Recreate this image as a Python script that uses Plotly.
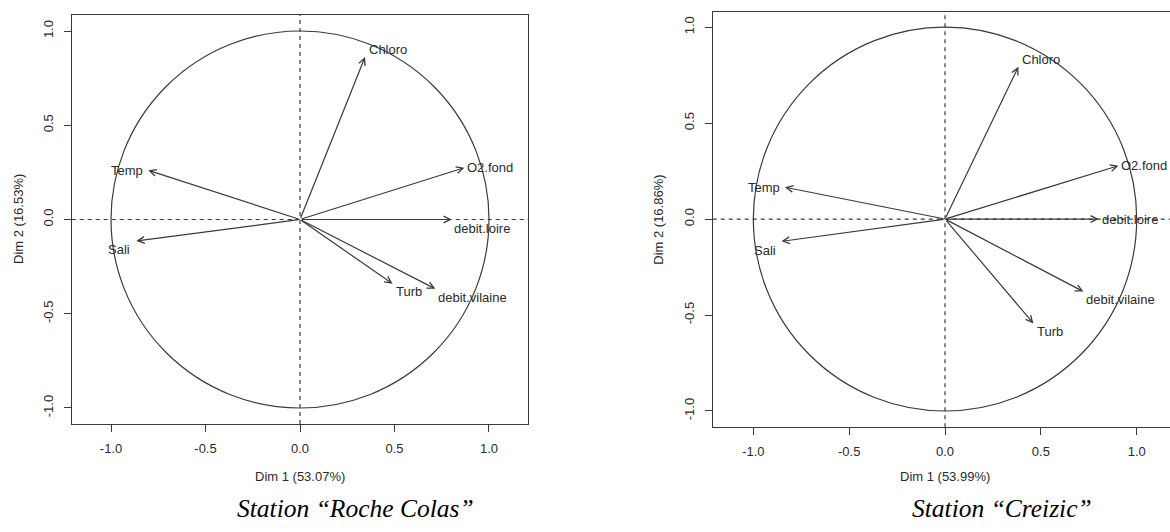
import plotly.graph_objects as go

# PCA variable coordinates (correlation circle) for the two stations
variables = ["Chloro", "Temp", "O2.fond", "debit.loire", "Sali", "Turb", "debit.vilaine"]

rc_dim1 = [0.344, -0.803, 0.870, 0.803, -0.866, 0.490, 0.716]
rc_dim2 = [0.862, 0.261, 0.275, 0.000, -0.114, -0.341, -0.368]

cz_dim1 = [0.383, -0.835, 0.905, 0.802, -0.853, 0.461, 0.722]
cz_dim2 = [0.794, 0.166, 0.278, 0.000, -0.116, -0.544, -0.378]

tick_vals = [-1.0, -0.5, 0.0, 0.5, 1.0]
tick_text = ["-1.0", "-0.5", "0.0", "0.5", "1.0"]

panels = [
    {"station": "Station \u201cRoche Colas\u201d", "xlab": "Dim 1 (53.07%)", "ylab": "Dim 2 (16.53%)",
     "d1": rc_dim1, "d2": rc_dim2},
    {"station": "Station \u201cCreizic\u201d", "xlab": "Dim 1 (53.99%)", "ylab": "Dim 2 (16.86%)",
     "d1": cz_dim1, "d2": cz_dim2},
]

# label placement around each arrow tip: (xanchor, xshift, yshift)
label_pos = [
    {"Chloro": ("left", 2, 8), "Temp": ("right", -3, 0), "O2.fond": ("left", 1, 0),
     "debit.loire": ("left", 0, -9), "Sali": ("right", -4, -9), "Turb": ("left", 1, -8),
     "debit.vilaine": ("left", 1, -9)},
    {"Chloro": ("left", 2, 7), "Temp": ("right", -3, 0), "O2.fond": ("left", 1, 0),
     "debit.loire": ("left", 1, 0), "Sali": ("right", -4, -9), "Turb": ("left", 2, -8),
     "debit.vilaine": ("left", 1, -8)},
]

W, H = 1170, 532
LINE = "#3a3a3a"
LW = 1.2
TXT = "#2a2a2a"
SANS = "Liberation Sans, Arial, sans-serif"

fig = go.Figure()

# subplot geometry (pixels)
geo = [
    {"x0": 71.7, "x1": 528.3, "y0": 15.0, "y1": 424.0, "xr": [-1.208, 1.208], "yr": [-1.085, 1.085]},
    {"x0": 712.7, "x1": 1170.0, "y0": 12.2, "y1": 427.3, "xr": [-1.212, 1.1737], "yr": [-1.085, 1.078]},
]

annotations = []
shapes = []
for i, (p, g) in enumerate(zip(panels, geo)):
    sx = "" if i == 0 else str(i + 1)
    xa, ya = "x" + sx, "y" + sx
    axis_common = dict(
        tickmode="array", tickvals=tick_vals, ticktext=tick_text,
        ticks="outside", ticklen=7, tickwidth=LW, tickcolor=LINE,
        showgrid=False, zeroline=False, showline=True, linecolor=LINE, linewidth=LW,
        tickfont=dict(family=SANS, size=13, color=TXT), ticklabelstandoff=5,
    )
    fig.update_layout({
        "xaxis" + sx: dict(axis_common, domain=[g["x0"] / W, g["x1"] / W], range=g["xr"],
                           anchor=ya, mirror=True),
        "yaxis" + sx: dict(axis_common, domain=[1 - g["y1"] / H, 1 - g["y0"] / H], range=g["yr"],
                           anchor=xa, mirror=(i == 0), tickangle=-90),
    })

    # unit circle and dashed reference axes
    shapes.append(dict(type="circle", xref=xa, yref=ya, x0=-1, x1=1, y0=-1, y1=1,
                       line=dict(color=LINE, width=LW)))
    shapes.append(dict(type="line", xref=xa, yref=ya, x0=g["xr"][0], x1=g["xr"][1], y0=0, y1=0,
                       line=dict(color=LINE, width=LW, dash="4px,4px")))
    shapes.append(dict(type="line", xref=xa, yref=ya, x0=0, x1=0, y0=g["yr"][0], y1=g["yr"][1],
                       line=dict(color=LINE, width=LW, dash="4px,4px")))

    # variable arrows and their labels
    for name, vx, vy in zip(variables, p["d1"], p["d2"]):
        annotations.append(dict(xref=xa, yref=ya, axref=xa, ayref=ya, x=vx, y=vy, ax=0, ay=0,
                                text="", showarrow=True, arrowhead=5, arrowsize=1.1,
                                arrowwidth=LW, arrowcolor=LINE, standoff=0, startstandoff=0))
        anc, dx, dy = label_pos[i][name]
        annotations.append(dict(xref=xa, yref=ya, x=vx, y=vy, text=name, showarrow=False,
                                xanchor=anc, yanchor="middle", xshift=dx, yshift=dy,
                                font=dict(family=SANS, size=13, color=TXT)))

    # axis titles
    cx = 300.0 if i == 0 else 945.0
    annotations.append(dict(xref="paper", yref="paper", x=cx / W, y=1 - 476.5 / H,
                            text=p["xlab"], showarrow=False, xanchor="center", yanchor="middle",
                            font=dict(family=SANS, size=13, color=TXT)))
    ty_x = 18.5 if i == 0 else 659.0
    ty_y = (g["y0"] + g["y1"]) / 2
    annotations.append(dict(xref="paper", yref="paper", x=ty_x / W, y=1 - ty_y / H,
                            text=p["ylab"], showarrow=False, textangle=-90,
                            xanchor="center", yanchor="middle",
                            font=dict(family=SANS, size=13, color=TXT)))

    # station caption
    sx_px = 355.0 if i == 0 else 1002.0
    annotations.append(dict(xref="paper", yref="paper", x=sx_px / W, y=1 - 508.0 / H,
                            text="<i>" + p["station"] + "</i>", showarrow=False,
                            xanchor="center", yanchor="middle",
                            font=dict(family="Liberation Serif, Times New Roman, serif",
                                      size=25.5, color="#000000")))

fig.update_layout(
    width=W, height=H, margin=dict(l=0, r=0, t=0, b=0),
    paper_bgcolor="white", plot_bgcolor="white", showlegend=False,
    shapes=shapes, annotations=annotations,
)

fig.write_html("out.html", include_plotlyjs=True, config={"displayModeBar": False})
